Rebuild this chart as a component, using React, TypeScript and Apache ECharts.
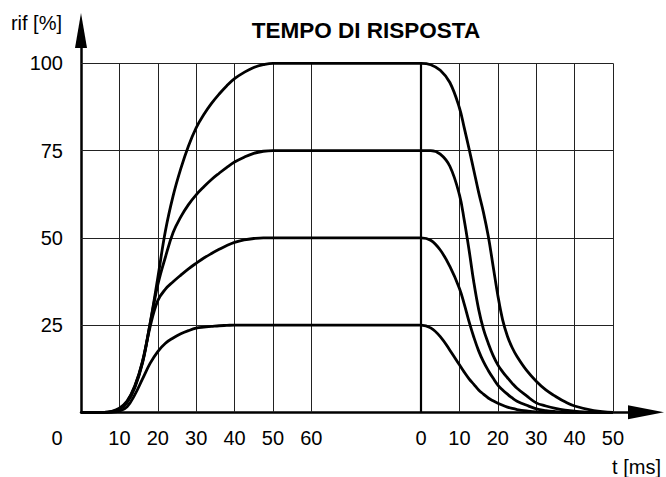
import React, { useEffect, useRef } from "react";
import * as echarts from "echarts";

// ---- data ----
const riseT = [0, 6, 8, 10, 12, 14, 16, 18, 20, 22, 24, 26, 28, 30, 32, 34, 36, 38, 40, 42.5, 45, 47.5, 50, 55, 60];
const rise100 = [0, 0, 0.3, 1.2, 3.2, 7.5, 14.5, 25.5, 38.5, 52, 62, 69.8, 76.3, 81.5, 85.3, 88.5, 91.2, 93.6, 95.6, 97.4, 98.8, 99.6, 100, 100, 100];
const rise75 = [0, 0, 0.2, 1, 3, 7.3, 14.3, 25.3, 36.5, 44.5, 51.5, 56, 59.5, 62.3, 64.6, 66.7, 68.5, 70.2, 71.7, 73.1, 74.2, 74.8, 75, 75, 75];
const rise50 = [0, 0, 0.1, 0.8, 2.8, 7, 14, 24.5, 32, 35.3, 37.4, 39.3, 41.1, 42.7, 44.2, 45.5, 46.7, 47.8, 48.7, 49.4, 49.8, 50, 50, 50, 50];
const rise25 = [0, 0, 0, 0.3, 1.6, 5, 9.5, 14, 17.4, 19.8, 21.3, 22.5, 23.4, 24.1, 24.4, 24.6, 24.8, 24.9, 25, 25, 25, 25, 25, 25, 25];

const fallT = [0, 2.5, 5, 7.5, 10, 11.25, 12.5, 13.75, 15, 16.25, 17.5, 18.75, 20, 21.25, 22.5, 23.75, 25, 27.5, 30, 32.5, 35, 37.5, 40, 45, 50];
const fall100 = [100, 99.6, 98, 94.5, 87.2, 81.5, 75.5, 69.3, 63, 57.3, 50.5, 42, 33.5, 26.5, 21.8, 18.5, 16, 12, 8.9, 6.4, 4.6, 3, 1.8, 0.5, 0];
const fall75 = [75, 75, 74, 70.5, 62.3, 55, 46.5, 37.2, 29.5, 23.8, 19.8, 16.3, 13.6, 11.6, 9.9, 8.3, 6.9, 4.7, 2.7, 1.8, 1.1, 0.6, 0.3, 0, 0];
const fall50 = [50, 49.3, 46.5, 41.8, 35.5, 31, 26, 21.5, 17.6, 14.5, 12, 9.8, 7.8, 6.4, 5.2, 4.1, 3.2, 2, 1, 0.5, 0.2, 0, 0, 0, 0];
const fall25 = [25, 24.2, 21.7, 17.8, 13.6, 11.5, 9.6, 8, 6.4, 5.2, 4.1, 3.3, 2.6, 2, 1.5, 1.1, 0.8, 0.4, 0.1, 0, 0, 0, 0, 0, 0];

// axis ticks
const leftTicks = [10, 20, 30, 40, 50, 60];
const rightTicks = [0, 10, 20, 30, 40, 50];
const yTicks = [25, 50, 75, 100];

// second time scale starts here (broken axis)
const FALL_ORIGIN = 88.6;
const X_MAX = 147.2;
const Y_MAX = 109.4;

const FONT = "Arial, 'Liberation Sans', Helvetica, sans-serif";

export default function App() {
  const ref = useRef<HTMLDivElement>(null);

  useEffect(() => {
    if (!ref.current) return;
    const chart = echarts.init(ref.current, null, { renderer: "svg" });

    const build = (r: number[], f: number[]) => [
      ...riseT.map((t, i) => [t, r[i]]),
      ...fallT.map((t, i) => [FALL_ORIGIN + t, f[i]]),
    ];

    const xLabelValues = [
      ...leftTicks,
      ...rightTicks.map((t) => FALL_ORIGIN + t),
    ];
    const gridRight = FALL_ORIGIN + rightTicks[rightTicks.length - 1];

    const lineStyleGrid = { color: "#222", width: 1, type: "solid" as const };
    const markData: any[] = [];
    leftTicks.forEach((v) =>
      markData.push([{ coord: [v, 0], lineStyle: lineStyleGrid }, { coord: [v, 100] }])
    );
    rightTicks.forEach((t, i) =>
      markData.push([
        { coord: [FALL_ORIGIN + t, 0], lineStyle: i === 0 ? { color: "#000", width: 2.2, type: "solid" } : lineStyleGrid },
        { coord: [FALL_ORIGIN + t, 100] },
      ])
    );
    yTicks.forEach((v) =>
      markData.push([{ coord: [0, v], lineStyle: lineStyleGrid }, { coord: [gridRight, v] }])
    );

    const curve = (name: string, data: number[][]) => ({
      name,
      type: "line",
      data,
      showSymbol: false,
      symbol: "none",
      smooth: 0.4,
      lineStyle: { color: "#000", width: 2.8 },
      z: 5,
      silent: true,
    });

    chart.setOption({
      animation: false,
      grid: { left: 81, right: 20, top: 30.5, bottom: 64.7, containLabel: false },
      xAxis: {
        type: "value",
        min: 0,
        max: X_MAX,
        splitLine: { show: false },
        axisTick: { show: false },
        axisLine: {
          show: true,
          symbol: ["none", "triangle"],
          symbolSize: [14, 36],
          lineStyle: { color: "#000", width: 2.5 },
        },
        axisLabel: {
          customValues: xLabelValues,
          formatter: (v: number) =>
            v >= FALL_ORIGIN - 0.01 ? String(Math.round(v - FALL_ORIGIN)) : String(Math.round(v)),
          color: "#000",
          fontSize: 20,
          fontFamily: FONT,
          margin: 16,
        },
      },
      yAxis: {
        type: "value",
        min: 0,
        max: Y_MAX,
        splitLine: { show: false },
        axisTick: { show: false },
        axisLine: {
          show: true,
          symbol: ["none", "triangle"],
          symbolSize: [12, 35],
          lineStyle: { color: "#000", width: 2.5 },
        },
        axisLabel: {
          customValues: yTicks,
          color: "#000",
          fontSize: 20,
          fontFamily: FONT,
          margin: 18,
        },
      },
      graphic: [
        {
          type: "text",
          x: 366,
          y: 30,
          style: {
            text: "TEMPO DI RISPOSTA",
            fill: "#000",
            font: `bold 22.5px ${FONT}`,
            textAlign: "center",
            textVerticalAlign: "middle",
          },
        },
        {
          type: "text",
          x: 62,
          y: 23,
          style: {
            text: "rif [%]",
            fill: "#000",
            font: `20px ${FONT}`,
            textAlign: "right",
            textVerticalAlign: "middle",
          },
        },
        {
          type: "text",
          x: 57,
          y: 438,
          style: {
            text: "0",
            fill: "#000",
            font: `20px ${FONT}`,
            textAlign: "center",
            textVerticalAlign: "middle",
          },
        },
        {
          type: "text",
          x: 661,
          y: 467,
          style: {
            text: "t [ms]",
            fill: "#000",
            font: `20px ${FONT}`,
            textAlign: "right",
            textVerticalAlign: "middle",
          },
        },
      ],
      series: [
        {
          name: "grid",
          type: "line",
          data: [[0, 0]],
          showSymbol: false,
          symbol: "none",
          lineStyle: { opacity: 0 },
          silent: true,
          z: 1,
          markLine: {
            silent: true,
            symbol: ["none", "none"],
            label: { show: false },
            animation: false,
            data: markData,
          },
        },
        curve("100%", build(rise100, fall100)),
        curve("75%", build(rise75, fall75)),
        curve("50%", build(rise50, fall50)),
        curve("25%", build(rise25, fall25)),
      ],
    });

    return () => chart.dispose();
  }, []);

  return <div ref={ref} style={{ width: 666, height: 477, position: "absolute", left: 0, top: 0 }} />;
}
